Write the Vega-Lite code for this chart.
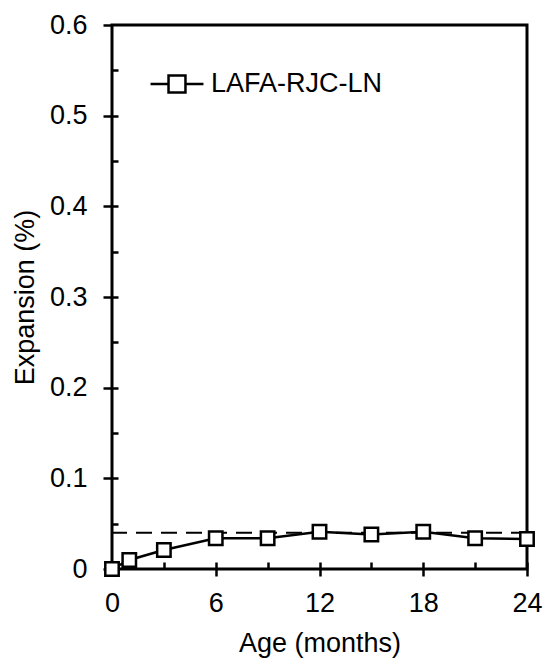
{
  "$schema": "https://vega.github.io/schema/vega-lite/v6.json",
  "autosize": {"type": "none"},
  "padding": {"left": 112, "top": 25, "right": 22, "bottom": 95},
  "width": 415,
  "height": 544,
  "background": "white",
  "config": {
    "view": {"stroke": "black", "strokeWidth": 3},
    "font": "Liberation Sans",
    "axis": {"grid": false, "domain": false, "tickColor": "black", "tickWidth": 2.5, "labelColor": "black", "titleColor": "black", "labelFont": "Liberation Sans", "titleFont": "Liberation Sans", "labelFontSize": 27, "titleFontSize": 27, "titleFontWeight": "normal", "labelFlush": false, "labelOverlap": false}
  },
  "datasets": {
    "series": [
      {"age": 0, "expansion": 0.0, "series": "LAFA-RJC-LN"},
      {"age": 1, "expansion": 0.01, "series": "LAFA-RJC-LN"},
      {"age": 3, "expansion": 0.021, "series": "LAFA-RJC-LN"},
      {"age": 6, "expansion": 0.034, "series": "LAFA-RJC-LN"},
      {"age": 9, "expansion": 0.034, "series": "LAFA-RJC-LN"},
      {"age": 12, "expansion": 0.041, "series": "LAFA-RJC-LN"},
      {"age": 15, "expansion": 0.038, "series": "LAFA-RJC-LN"},
      {"age": 18, "expansion": 0.041, "series": "LAFA-RJC-LN"},
      {"age": 21, "expansion": 0.034, "series": "LAFA-RJC-LN"},
      {"age": 24, "expansion": 0.033, "series": "LAFA-RJC-LN"}
    ],
    "limit": [{"limit": 0.04}]
  },
  "resolve": {"axis": {"x": "independent", "y": "independent"}},
  "layer": [
    {
      "data": {"name": "limit"},
      "mark": {"type": "rule", "color": "black", "strokeWidth": 2, "strokeDash": [16, 9]},
      "encoding": {
        "y": {"field": "limit", "type": "quantitative", "scale": {"domain": [0, 0.6], "nice": false, "zero": false},
          "axis": {"orient": "left", "values": [0.05, 0.1, 0.15, 0.2, 0.25, 0.3, 0.35, 0.4, 0.45, 0.5, 0.55], "tickSize": -6, "labels": false, "title": null}}
      }
    },
    {
      "data": {"name": "series"},
      "mark": {"type": "line", "color": "black", "strokeWidth": 2.5},
      "encoding": {
        "x": {"field": "age", "type": "quantitative", "scale": {"domain": [0, 24], "nice": false, "zero": false},
          "axis": {"orient": "bottom", "values": [0, 6, 12, 18, 24], "tickSize": 7, "labelPadding": 14, "title": "Age (months)", "titlePadding": 14}},
        "y": {"field": "expansion", "type": "quantitative", "scale": {"domain": [0, 0.6], "nice": false, "zero": false},
          "axis": {"orient": "left", "values": [0, 0.1, 0.2, 0.3, 0.4, 0.5, 0.6], "format": "~g", "tickSize": 9, "labelPadding": 16, "title": "Expansion (%)", "titlePadding": 10}},
        "color": {"field": "series", "type": "nominal", "scale": {"range": ["black"]},
          "legend": {"title": null, "orient": "none", "legendX": 37, "legendY": 31,
            "symbolType": "M-1,0L-0.32,0M0.32,0L1,0M-0.32,-0.32L0.32,-0.32L0.32,0.32L-0.32,0.32Z",
            "symbolSize": 2800, "symbolFillColor": "white", "symbolStrokeColor": "black", "symbolStrokeWidth": 2.5,
            "labelFontSize": 27, "labelFont": "Liberation Sans", "labelColor": "black", "labelOffset": 6, "labelLimit": 400}}
      }
    },
    {
      "data": {"name": "series"},
      "mark": {"type": "point", "shape": "square", "filled": true, "fill": "white", "stroke": "black", "strokeWidth": 2.5, "size": 180, "opacity": 1},
      "encoding": {
        "x": {"field": "age", "type": "quantitative",
          "axis": {"orient": "bottom", "values": [0, 3, 6, 9, 12, 15, 18, 21, 24], "tickSize": -7, "labels": false, "title": null}},
        "y": {"field": "expansion", "type": "quantitative", "axis": null}
      }
    }
  ]
}
